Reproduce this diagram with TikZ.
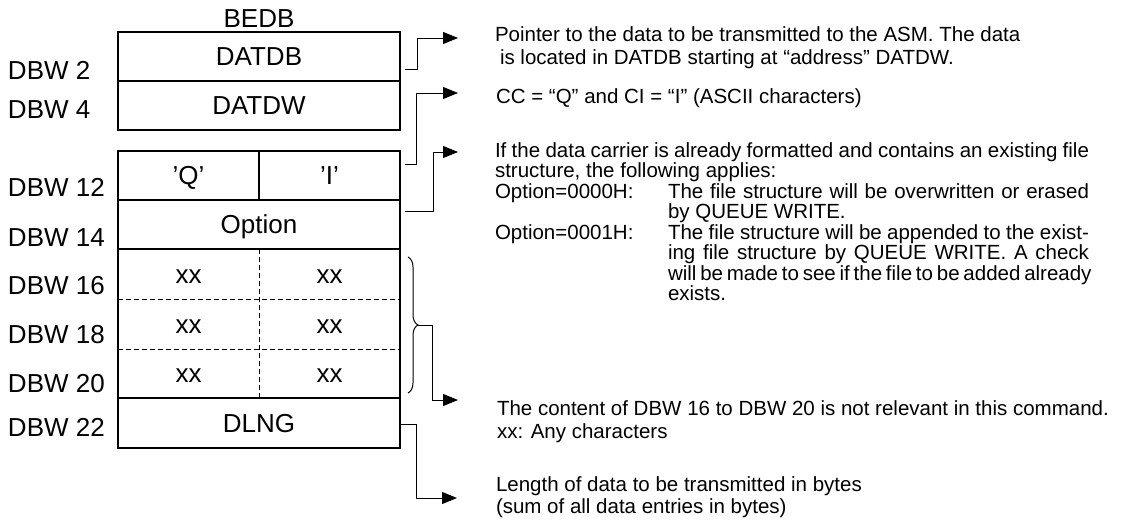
\documentclass[tikz,border=0pt]{standalone}
\usepackage{fontspec}
\setmainfont{Liberation Sans}
\usetikzlibrary{arrows.meta,calc,decorations.pathreplacing}
\begin{document}
\begin{tikzpicture}[x=1pt,y=-1pt,
  lbl/.style={anchor=base west, inner sep=0pt, outer sep=0pt, font=\fontsize{26}{30}\selectfont},
  cell/.style={inner sep=0pt, outer sep=0pt, font=\fontsize{26}{30}\selectfont, text height=18.6pt, text depth=0pt},
  wide/.style={cell, minimum width=282pt},
  half/.style={cell, minimum width=141pt},
  desc/.style={anchor=base west, inner sep=0pt, outer sep=0pt, font=\fontsize{20.5}{24}\selectfont},
  boxline/.style={line width=1.3pt},
  dashline/.style={line width=1pt, dash pattern=on 5pt off 3pt},
  conn/.style={line width=1pt, -{Triangle[length=15pt,width=12pt]}},
]
\useasboundingbox (0,0) rectangle (1128,525);

% cells
\node[cell, anchor=base] (bedb) at (259,27) {BEDB};
\node[wide, minimum height=49pt] (datdb) at (259,56.5) {DATDB};
\node[wide, minimum height=49pt] (datdw) at (259,105.5) {DATDW};
\node[half, minimum height=49pt] (cq) at (188.5,175.5) {’Q’};
\node[half, minimum height=49pt] (ci) at (329.5,175.5) {’I’};
\node[wide, minimum height=49pt] (opt) at (259,224.5) {Option};
\node[half, minimum height=50pt] (x1a) at (188.5,274) {xx};
\node[half, minimum height=50pt] (x1b) at (329.5,274) {xx};
\node[half, minimum height=50pt] (x2a) at (188.5,324) {xx};
\node[half, minimum height=50pt] (x2b) at (329.5,324) {xx};
\node[half, minimum height=49pt] (x3a) at (188.5,373.5) {xx};
\node[half, minimum height=49pt] (x3b) at (329.5,373.5) {xx};
\node[wide, minimum height=50pt] (dlng) at (259,423) {DLNG};

% grid lines
\draw[boxline] (datdb.north west) rectangle (datdw.south east);
\draw[boxline] (datdb.south west) -- (datdb.south east);
\draw[boxline] (cq.north west) rectangle (dlng.south east);
\draw[boxline] (cq.north east) -- (cq.south east);
\draw[boxline] (cq.south west) -- (ci.south east);
\draw[boxline] (opt.south west) -- (opt.south east);
\draw[dashline] (x1a.south west) -- (x1b.south east);
\draw[dashline] (x2a.south west) -- (x2b.south east);
\draw[dashline] (x1a.north east) -- (x3a.south east);
\draw[boxline] (x3a.south west) -- (x3b.south east);
\draw[line width=2pt] (dlng.south west) -- (dlng.south east);

% left labels
\node[lbl] (l2) at (8,79) {DBW 2};
\node[lbl] (l4) at (8,118) {DBW 4};
\node[lbl] (l12) at (8,196) {DBW 12};
\node[lbl] (l14) at (8,246) {DBW 14};
\node[lbl] (l16) at (8,294) {DBW 16};
\node[lbl] (l18) at (8,343) {DBW 18};
\node[lbl] (l20) at (8,392) {DBW 20};
\node[lbl] (l22) at (8,436) {DBW 22};

% arrow targets
\coordinate (t1) at (458,38);
\coordinate (t2) at (458,93);
\coordinate (t3) at (458,152);
\coordinate (t4) at (458,400);
\coordinate (t5) at (457,498);
\coordinate (bt) at ($(x2b.east)+(18,1)$);

% connectors
\draw[conn] ($(datdb.east)+(5,12.5)$) -| ($(t1)+(-41,0)$) -- (t1);
\draw[conn] ($(ci.east)+(5,-11.5)$) -| ($(t2)+(-42,0)$) -- (t2);
\draw[conn] ($(opt.east)+(5,-13.5)$) -| ($(t3)+(-25,0)$) -- (t3);
\draw[decorate, decoration={brace, amplitude=10pt}, line width=1pt]
  ($(x1b.north east)+(8,8)$) -- ($(x3b.south east)+(8,-5)$);
\draw[conn] (bt) -| ($(t4)+(-26,0)$) -- (t4);
\draw[conn] ($(dlng.east)+(1,1)$) -| ($(t5)+(-41,0)$) -- (t5);

% descriptions
\node[desc] (d1a) at (495,41) {Pointer to the data to be transmitted to the ASM. The data};
\node[desc] (d1b) at (500,64) {is located in DATDB starting at “address” DATDW.};
\node[desc] (d2) at (496,103) {CC = “Q” and CI = “I” (ASCII characters)};
\node[desc] (d3a) at (495,157) {\makebox[594pt][s]{If the data carrier is already formatted and contains an existing file}};
\node[desc] (d3b) at (495,177.5) {structure, the following applies:};
\node[desc] (d3c) at (495,198) {Option=0000H:};
\node[desc] (d3d) at (668,198) {\makebox[421pt][s]{The file structure will be overwritten or erased}};
\node[desc] (d3e) at (668,218.5) {by QUEUE WRITE.};
\node[desc] (d3f) at (495,239) {Option=0001H:};
\node[desc] (d3g) at (668,239) {\makebox[421pt][s]{The file structure will be appended to the exist-}};
\node[desc] (d3h) at (668,259.5) {\makebox[421pt][s]{ing file structure by QUEUE WRITE. A check}};
\node[desc] (d3i) at (668,280) {\makebox[421pt][s]{will be made to see if the file to be added already}};
\node[desc] (d3j) at (668,300.5) {exists.};
\node[desc] (d4a) at (497,415) {The content of DBW 16 to DBW 20 is not relevant in this command.};
\node[desc] (d4b) at (497,438) {xx: Any characters};
\node[desc] (d5a) at (496,491) {Length of data to be transmitted in bytes};
\node[desc] (d5b) at (496,513) {(sum of all data entries in bytes)};
\end{tikzpicture}
\end{document}
